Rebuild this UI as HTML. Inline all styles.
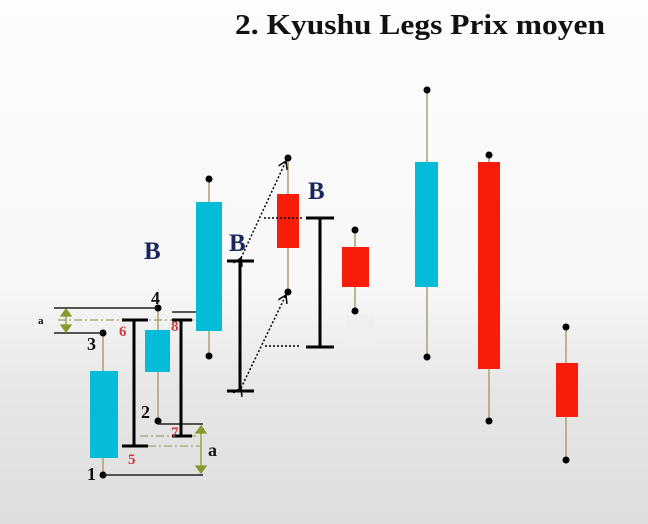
<!DOCTYPE html>
<html><head><meta charset="utf-8"><style>
html,body{margin:0;padding:0;width:648px;height:524px;overflow:hidden}
body{background:linear-gradient(#fdfdfd 0%,#f7f7f7 55%,#e6e6e6 75%,#dedede 100%)}
</style></head><body>
<svg width="648" height="524" xmlns="http://www.w3.org/2000/svg" font-family="'Liberation Serif',serif">
<defs>
<marker id="ar" markerWidth="10" markerHeight="10" refX="8" refY="5" orient="auto" markerUnits="userSpaceOnUse"><path d="M0,0 L8,5 L0,10" fill="none" stroke="#000" stroke-width="1.5"/></marker>
</defs>
<text x="235" y="34" font-size="28" font-weight="bold" fill="#111" textLength="370" lengthAdjust="spacingAndGlyphs">2. Kyushu Legs Prix moyen</text>
<g stroke="#a8a26a" stroke-width="1.5">
<line x1="103" y1="333" x2="103" y2="475"/>
<line x1="158" y1="308" x2="158" y2="421"/>
<line x1="209" y1="179" x2="209" y2="356"/>
<line x1="288" y1="158" x2="288" y2="292"/>
<line x1="355" y1="230" x2="355" y2="311"/>
<line x1="427" y1="90" x2="427" y2="357"/>
<line x1="489" y1="155" x2="489" y2="421"/>
<line x1="566" y1="327" x2="566" y2="460"/>
</g>
<g fill="#05bcd8">
<rect x="90" y="371" width="28" height="87"/>
<rect x="145" y="330" width="25" height="42"/>
<rect x="196" y="202" width="26" height="129"/>
<rect x="415" y="162" width="23" height="125"/>
</g>
<g fill="#f81c0a">
<rect x="277" y="194" width="22" height="54"/>
<rect x="342" y="247" width="27" height="40"/>
<rect x="478" y="162" width="22" height="207"/>
<rect x="556" y="363" width="22" height="54"/>
</g>
<rect x="347" y="315" width="28" height="28" fill="#efefef"/>
<g fill="#000">
<circle cx="103" cy="333" r="3.5"/><circle cx="103" cy="475" r="3.5"/>
<circle cx="158" cy="308" r="3.5"/><circle cx="158" cy="421" r="3.5"/>
<circle cx="209" cy="179" r="3.5"/><circle cx="209" cy="356" r="3.5"/>
<circle cx="288" cy="158" r="3.5"/><circle cx="288" cy="292" r="3.5"/>
<circle cx="355" cy="230" r="3.5"/><circle cx="355" cy="311" r="3.5"/>
<circle cx="427" cy="90" r="3.5"/><circle cx="427" cy="357" r="3.5"/>
<circle cx="489" cy="155" r="3.5"/><circle cx="489" cy="421" r="3.5"/>
<circle cx="566" cy="327" r="3.5"/><circle cx="566" cy="460" r="3.5"/>
</g>
<g stroke="#222" stroke-width="1.5" fill="none">
<polyline points="158,308 54,308"/>
<polyline points="103,333 54,333"/>
<polyline points="103,475 203,475"/>
<polyline points="158,424 203,424"/>
<line x1="172" y1="312" x2="196" y2="312"/>
</g>
<g stroke="#9aa36a" stroke-width="1.3" stroke-dasharray="8,3,2,3" fill="none">
<line x1="58" y1="320" x2="196" y2="320"/>
<line x1="140" y1="436" x2="196" y2="436"/>
<line x1="148" y1="446" x2="200" y2="446"/>
</g>
<g stroke="#8a9a2a" stroke-width="1.3">
<line x1="66" y1="312" x2="66" y2="329"/>
<path d="M66,309 L61,316 L71,316Z" fill="#8a9a2a"/>
<path d="M66,332 L61,325 L71,325Z" fill="#8a9a2a"/>
<line x1="201" y1="430" x2="201" y2="468"/>
<path d="M201,426 L196,433 L206,433Z" fill="#8a9a2a"/>
<path d="M201,473 L196,466 L206,466Z" fill="#8a9a2a"/>
</g>
<g stroke="#000" stroke-width="3">
<line x1="134" y1="320" x2="134" y2="446"/><line x1="122" y1="320" x2="148" y2="320"/><line x1="122" y1="446" x2="148" y2="446"/>
<line x1="181" y1="320" x2="181" y2="436"/><line x1="172" y1="320" x2="192" y2="320"/><line x1="172" y1="436" x2="192" y2="436"/>
<line x1="240" y1="261" x2="240" y2="391"/><line x1="227" y1="261" x2="254" y2="261"/><line x1="227" y1="391" x2="254" y2="391"/>
<line x1="320" y1="218" x2="320" y2="347"/><line x1="306" y1="218" x2="334" y2="218"/><line x1="306" y1="347" x2="334" y2="347"/>
</g>
<g stroke="#000" stroke-width="1.5" stroke-dasharray="2,2" fill="none">
<line x1="241" y1="258" x2="286" y2="161" marker-end="url(#ar)" marker-start="url(#ar)"/>
<line x1="241" y1="388" x2="286" y2="295" marker-end="url(#ar)" marker-start="url(#ar)"/>
<line x1="264" y1="218" x2="302" y2="218"/>
<line x1="265" y1="346" x2="300" y2="346"/>
</g>
<g font-weight="bold" fill="#17265e" font-size="25">
<text x="144" y="259">B</text>
<text x="229" y="251">B</text>
<text x="308" y="199">B</text>
</g>
<g font-weight="bold" font-size="18" fill="#111">
<text x="87" y="480">1</text>
<text x="141" y="418">2</text>
<text x="87" y="350">3</text>
<text x="151" y="304">4</text>
<text x="208" y="456">a</text>
</g>
<text x="38" y="324" font-size="11" font-weight="bold" fill="#111">a</text>
<g font-weight="bold" font-size="15" fill="#d43a3a">
<text x="128" y="464">5</text>
<text x="119" y="336">6</text>
<text x="171" y="437">7</text>
<text x="171" y="331">8</text>
</g>
</svg>
</body></html>
